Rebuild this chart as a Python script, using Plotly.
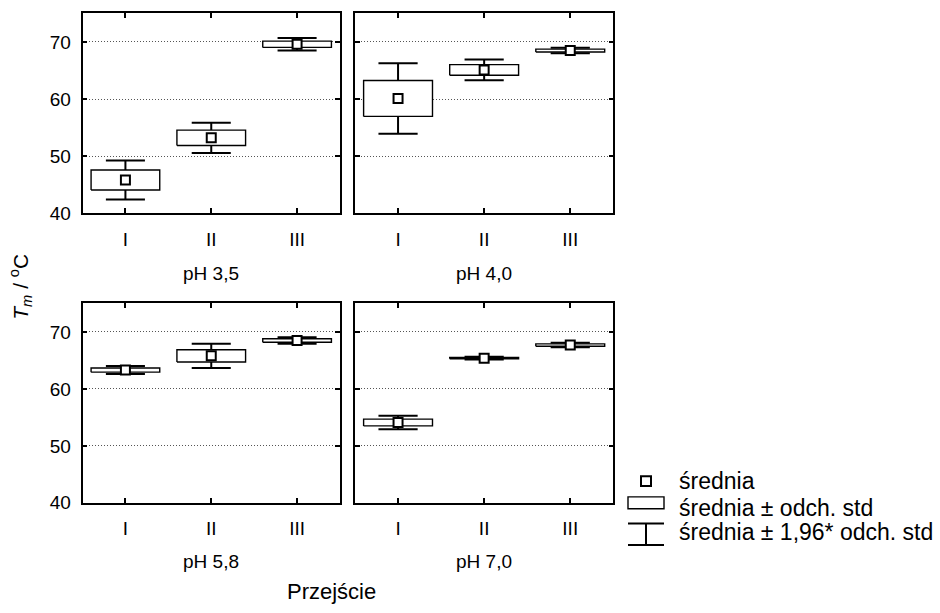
import plotly.graph_objects as go

# Melting temperature by transition (I, II, III) at four pH values
transitions = ["I", "II", "III"]
panel_titles = ["pH 3,5", "pH 4,0", "pH 5,8", "pH 7,0"]

mean_ph35 = [45.8, 53.2, 69.6]
sd_ph35 = [1.75, 1.35, 0.55]
mean_ph40 = [60.1, 65.1, 68.5]
sd_ph40 = [3.15, 0.93, 0.25]
mean_ph58 = [63.3, 65.8, 68.5]
sd_ph58 = [0.36, 1.08, 0.30]
mean_ph70 = [54.1, 65.4, 67.7]
sd_ph70 = [0.60, 0.12, 0.20]

y_ticks = [40, 50, 60, 70]
ci_factor = 1.96

W, H = 940, 613


def px(x):
    return x / W


def py(y):
    return 1 - y / H


# panel frames in pixels: (left, right, top, bottom)
frames = [
    (82.5, 340.0, 13.7, 217.0),
    (355.0, 613.3, 13.7, 217.0),
    (82.5, 340.0, 309.0, 512.0),
    (355.0, 613.3, 309.0, 512.0),
]

series = [(mean_ph35, sd_ph35), (mean_ph40, sd_ph40),
          (mean_ph58, sd_ph58), (mean_ph70, sd_ph70)]

box_half = 0.40
cap_half = 0.2275

fig = go.Figure()
layout = dict(
    width=W, height=H,
    margin=dict(l=0, r=0, t=0, b=0),
    paper_bgcolor="white", plot_bgcolor="white",
    showlegend=False,
    font=dict(family="Liberation Sans, Arial, sans-serif", color="black"),
)

for k, ((means, sds), (l, r, t, b)) in enumerate(zip(series, frames)):
    n = k + 1
    xa = "x" if n == 1 else f"x{n}"
    ya = "y" if n == 1 else f"y{n}"
    cats = list(range(1, len(transitions) + 1))

    # whiskers: mean ± 1.96*sd
    wx, wy = [], []
    for c, m, s in zip(cats, means, sds):
        lo, hi = m - ci_factor * s, m + ci_factor * s
        wx += [c, c, None, c - cap_half, c + cap_half, None,
               c - cap_half, c + cap_half, None]
        wy += [lo, hi, None, hi, hi, None, lo, lo, None]
    fig.add_trace(go.Scatter(x=wx, y=wy, mode="lines", xaxis=xa, yaxis=ya,
                             line=dict(color="black", width=2),
                             hoverinfo="skip"))

    # boxes: mean ± sd
    for c, m, s in zip(cats, means, sds):
        fig.add_trace(go.Scatter(
            x=[c - box_half, c + box_half, c + box_half, c - box_half, c - box_half],
            y=[m - s, m - s, m + s, m + s, m - s],
            mode="lines", fill="toself", fillcolor="white",
            line=dict(color="black", width=1.4),
            xaxis=xa, yaxis=ya, hoverinfo="skip"))

    # means
    fig.add_trace(go.Scatter(x=cats, y=means, mode="markers", xaxis=xa, yaxis=ya,
                             marker=dict(symbol="square", size=9, color="white",
                                         line=dict(color="black", width=2))))

    axis_common = dict(
        showline=True, mirror="ticks", linecolor="black", linewidth=1.5,
        ticks="inside", ticklen=5, tickwidth=1.5, tickcolor="black",
        zeroline=False,
    )
    layout["xaxis" if n == 1 else f"xaxis{n}"] = dict(
        axis_common,
        domain=[px(l), px(r)], anchor=ya,
        range=[0.5, 3.5], tickvals=cats, ticktext=transitions,
        showgrid=False, tickfont=dict(size=19), ticklabelstandoff=8,
    )
    layout["yaxis" if n == 1 else f"yaxis{n}"] = dict(
        axis_common,
        domain=[py(b), py(t)], anchor=xa,
        range=[40, 75], tickvals=y_ticks,
        showgrid=True, gridcolor="#555", gridwidth=1, griddash="1px,2px",
        showticklabels=(k % 2 == 0), tickfont=dict(size=19), ticklabelstandoff=6,
    )

fig.update_layout(**layout)

annotations = []
subtitle_y = [278, 278, 572, 572]
for title, (l, r, t, b), yy in zip(panel_titles, frames, subtitle_y):
    annotations.append(dict(text=title, x=px((l + r) / 2), y=py(yy), xref="paper",
                            yref="paper", showarrow=False, xanchor="center",
                            yanchor="middle", font=dict(size=19)))

annotations.append(dict(text="Przejście", x=px(331), y=py(602), xref="paper",
                        yref="paper", showarrow=False, xanchor="center",
                        yanchor="middle", font=dict(size=22)))
annotations.append(dict(text="<i>T<sub>m</sub></i> / <sup>o</sup>C", x=px(21),
                        y=py(292), xref="paper", yref="paper", showarrow=False,
                        xanchor="center", yanchor="middle", textangle=-90,
                        font=dict(size=21)))

# key explaining the symbols
legend_labels = ["średnia", "średnia ± odch. std", "średnia ± 1,96* odch. std"]
legend_y = [490, 517, 542]
for lab, yy in zip(legend_labels, legend_y):
    annotations.append(dict(text=lab, x=px(677), y=py(yy), xref="paper",
                            yref="paper", showarrow=False, xanchor="left",
                            yanchor="middle", font=dict(size=23)))

shapes = [
    dict(type="rect", xref="paper", yref="paper", x0=px(641), x1=px(651),
         y0=py(495), y1=py(485), line=dict(color="black", width=2),
         fillcolor="white"),
    dict(type="rect", xref="paper", yref="paper", x0=px(628), x1=px(664),
         y0=py(518), y1=py(506), line=dict(color="black", width=1.4),
         fillcolor="white"),
    dict(type="line", xref="paper", yref="paper", x0=px(628), x1=px(664),
         y0=py(533), y1=py(533), line=dict(color="black", width=2)),
    dict(type="line", xref="paper", yref="paper", x0=px(628), x1=px(664),
         y0=py(555), y1=py(555), line=dict(color="black", width=2)),
    dict(type="line", xref="paper", yref="paper", x0=px(646), x1=px(646),
         y0=py(533), y1=py(555), line=dict(color="black", width=2)),
]

fig.update_layout(annotations=annotations, shapes=shapes)
fig.write_html("out.html")
